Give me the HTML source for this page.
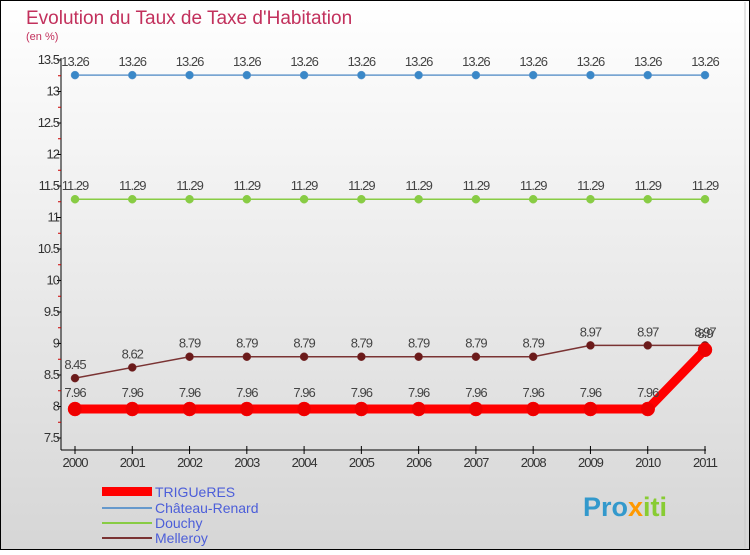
<!DOCTYPE html>
<html><head><meta charset="utf-8"><style>
html,body{margin:0;padding:0}
body{width:750px;height:550px;overflow:hidden;font-family:"Liberation Sans",sans-serif}
</style></head><body>
<svg id="c" width="750" height="550" xmlns="http://www.w3.org/2000/svg">
<defs><linearGradient id="bg" x1="0" y1="0" x2="0" y2="1"><stop offset="0" stop-color="#ffffff"/><stop offset="1" stop-color="#d6d6d6"/></linearGradient></defs>
<rect x="0.5" y="0.5" width="749" height="549" fill="url(#bg)" stroke="#000"/>
<line x1="745" y1="2" x2="745" y2="548" stroke="#c8c8c8"/>
<text x="26" y="24" font-size="19" fill="#c2305c">Evolution du Taux de Taxe d'Habitation</text>
<text x="26" y="40" font-size="11" fill="#c2305c">(en %)</text>
<g id="axes"></g><g id="series"></g>
<g>
<rect x="102" y="487" width="50" height="9" fill="#ff0000"/>
<text x="155" y="497" font-size="14" fill="#4c5ed9">TRIGUeRES</text>
<line x1="102" y1="508" x2="152" y2="508" stroke="#6699cc" stroke-width="2"/>
<text x="155" y="513" font-size="14" fill="#4c5ed9">Château-Renard</text>
<line x1="102" y1="523" x2="152" y2="523" stroke="#88cc44" stroke-width="2"/>
<text x="155" y="528" font-size="14" fill="#4c5ed9">Douchy</text>
<line x1="102" y1="538" x2="152" y2="538" stroke="#7a3333" stroke-width="2"/>
<text x="155" y="543" font-size="14" fill="#4c5ed9">Melleroy</text>
</g>
<text x="583" y="516" font-size="27" font-weight="bold" fill="#3399cc">Pro<tspan fill="#ff9900">x</tspan><tspan fill="#88cc33">iti</tspan></text>
</svg>
<script>
const years=[2000,2001,2002,2003,2004,2005,2006,2007,2008,2009,2010,2011];
const yTicks=[7.5,8,8.5,9,9.5,10,10.5,11,11.5,12,12.5,13,13.5];
const chateau=[13.26,13.26,13.26,13.26,13.26,13.26,13.26,13.26,13.26,13.26,13.26,13.26];
const douchy=[11.29,11.29,11.29,11.29,11.29,11.29,11.29,11.29,11.29,11.29,11.29,11.29];
const melleroy=[8.45,8.62,8.79,8.79,8.79,8.79,8.79,8.79,8.79,8.97,8.97,8.97];
const trigueres=[7.96,7.96,7.96,7.96,7.96,7.96,7.96,7.96,7.96,7.96,7.96,8.9];
const NS="http://www.w3.org/2000/svg";
const X=i=>75+i*(705-75)/(years.length-1);
const Y=v=>438-(v-7.5)*(438-60)/6;
function mk(t,a,p){const e=document.createElementNS(NS,t);for(const k in a)e.setAttribute(k,a[k]);p.appendChild(e);return e;}
const ax=document.getElementById('axes');
mk('line',{x1:61,y1:58,x2:61,y2:450,stroke:'#000'},ax);
mk('line',{x1:61,y1:450,x2:706,y2:450,stroke:'#000'},ax);
yTicks.forEach(v=>{const y=Y(v);
 mk('line',{x1:57,y1:y,x2:61,y2:y,stroke:'#000'},ax);
 const t=mk('text',{x:59,y:y+4,'font-size':13,'text-anchor':'end',fill:'#333','letter-spacing':'-1'},ax);t.textContent=String(v);
 
 
 if(v<13.5){mk('line',{x1:58,y1:Y(v+0.25),x2:61,y2:Y(v+0.25),stroke:'#cc0000'},ax);}
});
years.forEach((yr,i)=>{const x=X(i);
 mk('line',{x1:x,y1:446,x2:x,y2:454,stroke:'#000'},ax);
 const t=mk('text',{x:x,y:467,'font-size':13,'text-anchor':'middle',fill:'#333','letter-spacing':'-1'},ax);t.textContent=yr;
 
 
});
const sg=document.getElementById('series');
function series(name,vals,color,w,r,dot,lbl){
 const g=mk('g',{},sg);
 
 
 mk('polyline',{points:vals.map((v,i)=>X(i)+','+Y(v)).join(' '),fill:'none',stroke:color,'stroke-width':w,'stroke-linejoin':'round'},g);
 vals.forEach((v,i)=>{const c=mk('circle',{cx:X(i),cy:Y(v),r:r,fill:dot,stroke:color,'stroke-width':0.5},g);
  
  
  const t=mk('text',{x:X(i),y:Y(v)-(lbl||9),'font-size':13,'text-anchor':'middle',fill:'#444','letter-spacing':'-1'},g);t.textContent=String(v);
  
  });
}
series('chateau-renard',chateau,'#6699cc',1.5,4,'#3a88c8');
series('douchy',douchy,'#88cc44',1.5,4,'#88cc44');
series('melleroy',melleroy,'#7a3333',1.5,4,'#6b1a1a');
series('trigueres',trigueres,'#ff0000',9,7,'#ee0000',12);
</script>
</body></html>
